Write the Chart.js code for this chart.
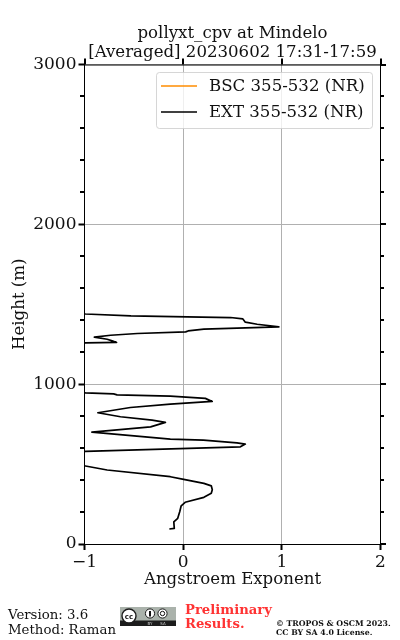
<!DOCTYPE html>
<html>
<head>
<meta charset="utf-8">
<title>pollyxt_cpv at Mindelo</title>
<script src="https://cdn.jsdelivr.net/npm/chart.js@4"></script>
<style>
    body { margin: 0; background: #fff; }
    #wrap { position: relative; width: 400px; height: 640px; overflow: hidden; font-family: "DejaVu Serif", serif; }
    canvas { position: absolute; left: 0; top: 0; }
    .foot { position: absolute; white-space: nowrap; line-height: 1; }
    #version { left: 8px; top: 608px; font-size: 13.3px; color: #111; }
    #method { left: 8px; top: 623px; font-size: 13.3px; color: #111; }
    #prelim1 { left: 185px; top: 603px; font-size: 13.2px; font-weight: bold; color: #ff3333; }
    #prelim2 { left: 185px; top: 617px; font-size: 13.2px; font-weight: bold; color: #ff3333; }
    #copy1 { left: 276px; top: 620px; font-size: 7.8px; font-weight: bold; color: #111; }
    #copy2 { left: 276px; top: 629px; font-size: 7.8px; font-weight: bold; color: #111; }
    #cc { position: absolute; left: 120px; top: 607px; }
</style>
</head>
<body>
<div id="wrap">
    <canvas id="grafico" width="400" height="640"></canvas>
    <div class="foot" id="version">Version: 3.6</div>
    <div class="foot" id="method">Method: Raman</div>
    <svg id="cc" width="56" height="19" viewBox="0 0 56 19">
        <rect width="56" height="19" fill="#aab2ab"/>
        <rect y="13.5" width="56" height="5.5" fill="#1c1c1c"/>
        <circle cx="9" cy="9" r="7" fill="#fff" stroke="#1c1c1c" stroke-width="1.4"/>
        <text x="9" y="11.5" font-size="7" font-weight="bold" text-anchor="middle" font-family="DejaVu Sans" fill="#111">cc</text>
        <circle cx="30" cy="6.5" r="4.6" fill="#fff" stroke="#1c1c1c"/>
        <rect x="29" y="4" width="2" height="5.5" fill="#111"/>
        <circle cx="42.5" cy="6.5" r="4.6" fill="#fff" stroke="#1c1c1c"/>
        <circle cx="42.5" cy="6.5" r="2.2" fill="none" stroke="#111"/>
        <text x="30" y="18.2" font-size="4" text-anchor="middle" font-family="DejaVu Sans" fill="#ccc">BY</text>
        <text x="43" y="18.2" font-size="4" text-anchor="middle" font-family="DejaVu Sans" fill="#ccc">SA</text>
    </svg>
    <div class="foot" id="prelim1">Preliminary</div>
    <div class="foot" id="prelim2">Results.</div>
    <div class="foot" id="copy1">© TROPOS &amp; OSCM 2023.</div>
    <div class="foot" id="copy2">CC BY SA 4.0 License.</div>
</div>
<script>
// Profilo (i tratti oltre -1 escono dall'asse e vengono tagliati)
const altezze = [94, 98, 139, 161, 202, 239, 261, 292, 317, 340, 364, 379, 404, 421, 463, 488,
    500, 570, 579, 608, 625, 633, 650, 656, 675, 700, 733, 761, 775, 796, 821, 854, 875, 892, 911, 925, 933, 939, 946,
    955, 1250, 1258, 1261, 1271, 1281, 1294, 1306, 1317, 1327, 1333, 1344, 1358, 1375, 1388, 1408, 1417, 1421, 1427, 1439, 1448];
const ext355532 = [-0.14, -0.09, -0.095, -0.055, -0.035, -0.02, 0.02, 0.21, 0.285, 0.295, 0.285, 0.21, 0.005, -0.13, -0.77, -0.99,
    -1.15, -1.15, -0.99, 0.58, 0.63, 0.545, 0.205, -0.13, -0.47, -0.925, -0.33, -0.18, -0.315, -0.635, -0.865, -0.535, -0.13, 0.295, 0.225, -0.13, -0.67, -0.705, -0.99,
    -1.15, -1.15, -0.99, -0.675, -0.72, -0.77, -0.9, -0.735, -0.465, 0.025, 0.05, 0.21, 0.97, 0.75, 0.63, 0.605, 0.48, 0.04, -0.53, -0.99, -1.15];
const bsc355532 = [];

const ticksX = [-1, 0, 1, 2];
const ticksY = [0, 1000, 2000, 3000];
const ticksYMinori = [200, 400, 600, 800, 1200, 1400, 1600, 1800, 2200, 2400, 2600, 2800];

const titoloGrafico = ['pollyxt_cpv at Mindelo', '[Averaged] 20230602 17:31-17:59'];
const titoloX = 'Angstroem Exponent';
const titoloY = 'Height (m)';
const FONT = '"DejaVu Serif", serif';

// Assi superiore e destro, tacche minori e legenda dentro il grafico
const rifiniture = {
    id: 'rifiniture',
    afterDraw(chart) {
        const c = chart.ctx;
        const a = chart.chartArea;
        const sx = chart.scales.x;
        const sy = chart.scales.y;
        const sinistra = Math.floor(a.left);
        const destra = Math.floor(a.right);
        c.save();
        c.strokeStyle = '#000';

        c.lineWidth = 2;
        c.beginPath();
        ticksX.forEach(v => {
            const p = Math.round(sx.getPixelForValue(v));
            c.moveTo(p, a.top);
            c.lineTo(p, a.top - 6);
        });
        ticksY.forEach(v => {
            const p = Math.round(sy.getPixelForValue(v));
            c.moveTo(destra, p);
            c.lineTo(destra + 6, p);
        });
        ticksYMinori.forEach(v => {
            const p = Math.round(sy.getPixelForValue(v));
            c.moveTo(sinistra - 4, p);
            c.lineTo(sinistra, p);
            c.moveTo(destra, p);
            c.lineTo(destra + 4, p);
        });
        c.stroke();

        c.lineWidth = 1;
        c.beginPath();
        c.moveTo(sinistra, a.top + 0.5);
        c.lineTo(destra, a.top + 0.5);
        c.moveTo(destra + 0.5, a.top);
        c.lineTo(destra + 0.5, a.bottom);
        c.stroke();

        // legenda
        c.beginPath();
        c.roundRect(156.5, 72.5, 216, 56, 3);
        c.fillStyle = 'rgba(255,255,255,0.8)';
        c.fill();
        c.strokeStyle = 'rgba(204,204,204,0.8)';
        c.stroke();
        c.font = '16.6px ' + FONT;
        c.textBaseline = 'middle';
        chart.data.datasets.forEach((d, i) => {
            const y = 86 + i * 26;
            c.strokeStyle = d.borderColor;
            c.lineWidth = 1.7;
            c.beginPath();
            c.moveTo(161, y);
            c.lineTo(197, y);
            c.stroke();
            c.fillStyle = '#111';
            c.fillText(d.label, 209, y + 1);
        });
        c.restore();
    }
};

const puntiExt = altezze.map((h, i) => ({ x: ext355532[i], y: h }));

const grafico = new Chart(document.getElementById('grafico').getContext('2d'), {
    type: 'scatter',
    data: {
        datasets: [{
            label: 'BSC 355-532 (NR)',
            data: bsc355532,
            borderColor: '#ff8c00',
            showLine: true,
            pointRadius: 0,
            borderWidth: 1.7
        }, {
            label: 'EXT 355-532 (NR)',
            data: puntiExt,
            borderColor: '#000',
            showLine: true,
            pointRadius: 0,
            borderWidth: 1.7,
            borderJoinStyle: 'round',
            clip: 0
        }]
    },
    options: {
        responsive: false,
        animation: false,
        events: [],
        layout: { padding: { left: 5.5, right: 19.5, top: 0, bottom: 46 } },
        plugins: {
            legend: { display: false },
            tooltip: { enabled: false },
            title: {
                display: true,
                text: titoloGrafico,
                fullSize: false,
                color: '#111',
                font: { family: FONT, size: 16.6, weight: 'normal', lineHeight: 1.1 },
                padding: { top: 25, bottom: 3 }
            }
        },
        scales: {
            x: {
                type: 'linear',
                min: -1,
                max: 2,
                afterFit: s => { s.height = 50; },
                afterBuildTicks: s => { s.ticks = ticksX.map(v => ({ value: v })); },
                border: { color: '#000', width: 1 },
                grid: { color: '#b0b0b0', lineWidth: 1, tickColor: '#000', tickLength: 6, tickWidth: 2 },
                ticks: {
                    color: '#111',
                    font: { family: FONT, size: 17 },
                    padding: 2,
                    maxRotation: 0,
                    callback: v => (v < 0 ? '\u2212' + Math.abs(v) : String(v))
                },
                title: { display: true, text: titoloX, color: '#111', font: { family: FONT, size: 16.6 }, padding: { top: 1 } }
            },
            y: {
                type: 'linear',
                min: 0,
                max: 3000,
                afterFit: s => { s.width = 79; },
                afterBuildTicks: s => { s.ticks = ticksY.map(v => ({ value: v })); },
                border: { color: '#000', width: 1 },
                grid: { color: '#b0b0b0', lineWidth: 1, tickColor: '#000', tickLength: 6, tickWidth: 2 },
                ticks: { color: '#111', font: { family: FONT, size: 17 }, padding: 2, callback: v => String(v) },
                title: { display: true, text: titoloY, color: '#111', font: { family: FONT, size: 16.6 }, padding: { bottom: 0 } }
            }
        }
    },
    plugins: [rifiniture]
});
</script>
</body>
</html>
